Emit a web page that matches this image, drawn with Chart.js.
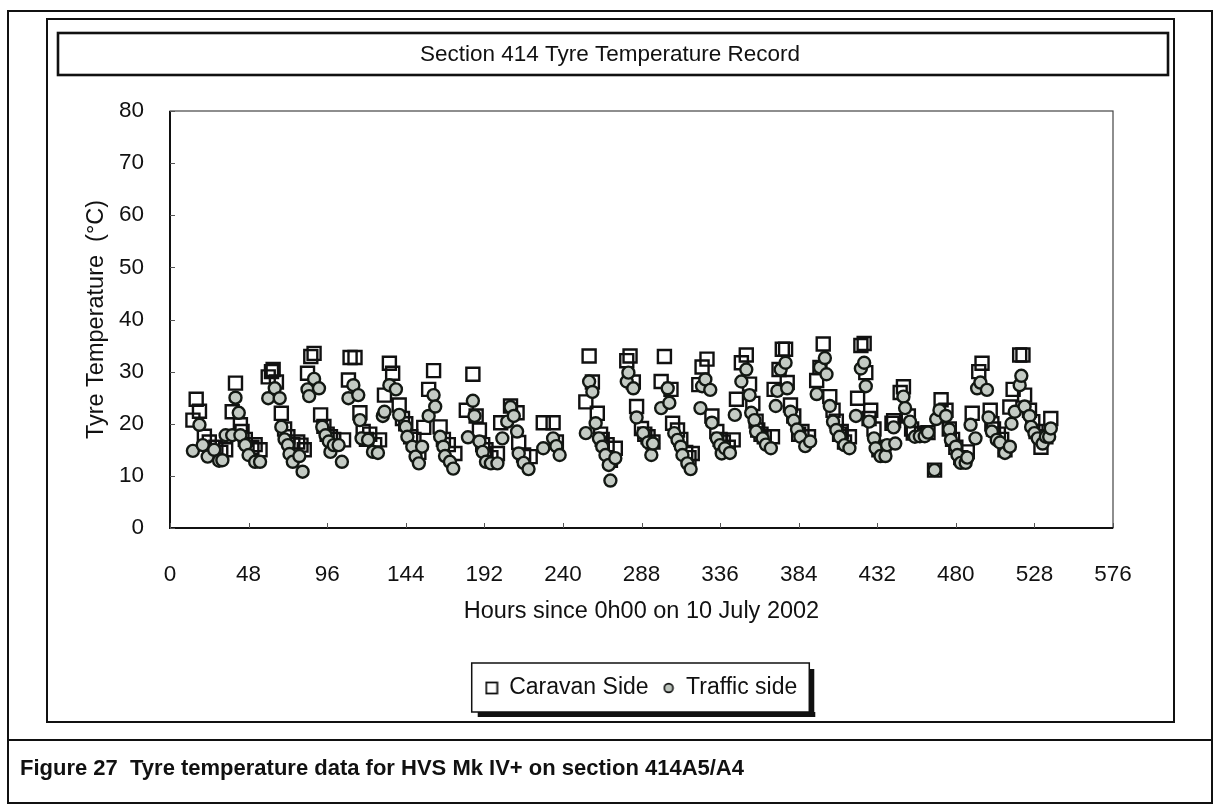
<!DOCTYPE html>
<html>
<head>
<meta charset="utf-8">
<script src="https://cdn.jsdelivr.net/npm/chart.js@4.4.1/dist/chart.umd.min.js"></script>
<style>
html,body{margin:0;padding:0;background:#fff;}
#wrap{position:relative;width:1220px;height:805px;overflow:hidden;background:#fff;}
#c{position:absolute;left:0;top:0;}
#caption{position:absolute;left:20px;top:755px;font:bold 22px "Liberation Sans",Arial,sans-serif;color:#111;white-space:pre;line-height:26px;}
</style>
</head>
<body>
<div id="wrap">
<canvas id="c" width="1220" height="805"></canvas>
<div id="caption">Figure 27  Tyre temperature data for HVS Mk IV+ on section 414A5/A4</div>
</div>
<script>
// ---- text ----
const chartTitle = 'Section 414 Tyre Temperature Record';
const xAxisTitle = 'Hours since 0h00 on 10 July 2002';
const yAxisTitle = 'Tyre Temperature  (\u00B0C)';
const seriesNames = ['Caravan Side', 'Traffic side'];

// ---- tick labels ----
const xTicks = [0, 48, 96, 144, 192, 240, 288, 336, 384, 432, 480, 528, 576];
const yTicks = [0, 10, 20, 30, 40, 50, 60, 70, 80];

// ---- Caravan Side (squares) ----
const caravanHours = [14,16,18,21,24,28,31,34,38,40,43,44,46,50,52,55,60,62,63,65,68,70,72,75,78,80,82,84,86,88,92,94,96,98,100,106,109,110,113,116,118,120,122,125,128,131,134,136,140,142,144,147,149,152,155,158,161,165,167,170,174,181,185,187,189,191,193,196,200,202,208,212,213,216,220,228,234,236,254,256,258,261,263,264,267,269,272,279,281,283,285,288,290,292,295,300,302,306,307,310,312,315,317,319,323,325,328,331,334,336,338,341,344,346,349,352,354,356,358,359,361,363,368,369,372,374,376,377,379,381,384,386,390,395,397,399,403,405,407,409,410,412,415,420,422,424,425,427,428,430,433,436,441,442,446,448,451,453,454,459,463,467,471,474,476,478,480,483,487,490,494,496,501,502,503,506,508,510,513,515,519,521,522,525,527,529,532,535,538];
const caravanTemps = [20.7,24.7,22.4,17.6,16.5,15.5,14.5,15.0,22.3,27.8,19.8,18.5,17.0,15.5,16.0,15.0,29.0,30.0,30.4,28.0,22.0,19.0,17.5,16.0,16.5,15.9,15.0,29.7,32.9,33.5,21.7,19.5,18.0,17.5,17.0,16.9,28.4,32.7,32.7,22.1,18.5,17.0,18.0,16.0,16.9,25.5,31.6,29.7,23.6,21.0,20.0,17.5,17.0,14.5,19.3,26.6,30.2,19.4,17.0,16.0,14.3,22.6,29.5,21.5,18.8,16.0,15.0,13.5,14.3,20.2,23.4,22.1,16.4,14.0,13.7,20.2,20.2,16.5,24.2,33.0,28.0,22.0,18.0,17.0,16.0,13.0,15.3,32.1,33.0,28.0,23.3,19.1,18.0,17.5,16.5,28.1,32.9,26.6,20.1,18.8,17.0,14.5,13.5,14.3,27.5,30.9,32.4,21.5,18.5,17.0,16.5,15.5,16.9,24.7,31.7,33.2,27.6,23.9,20.5,18.8,18.0,17.5,17.5,26.6,30.4,34.3,34.3,27.9,23.6,21.5,18.0,18.5,17.5,28.3,30.8,35.3,25.2,22.6,20.5,18.0,18.5,16.5,17.5,24.9,35.0,35.4,29.8,21.0,22.6,19.0,15.0,15.5,20.1,20.6,26.0,27.1,21.5,19.0,18.2,18.0,18.3,11.1,24.6,22.6,19.0,17.0,15.5,13.5,14.6,22.0,30.0,31.6,22.6,20.0,19.0,18.0,17.0,15.0,23.2,26.6,33.2,33.2,25.5,22.6,20.4,18.5,15.5,17.5,21.0];

// ---- Traffic side (circles) ----
const trafficHours = [14,18,20,23,27,30,32,34,38,40,42,43,46,48,52,55,60,64,67,68,70,72,73,75,79,81,84,85,88,91,93,95,97,98,100,103,105,109,112,115,116,117,121,124,127,130,131,134,138,140,144,145,148,150,152,154,158,161,162,165,167,168,171,173,182,185,186,189,191,193,196,200,203,206,208,210,212,213,216,219,228,234,236,238,254,256,258,260,262,264,266,268,269,272,279,280,283,285,289,292,294,295,300,304,305,308,310,312,313,316,318,324,325,327,330,331,334,336,337,339,342,345,349,352,354,355,357,358,362,364,367,370,371,373,376,377,379,381,383,385,388,391,395,397,400,401,403,405,407,409,412,415,419,422,424,425,427,430,431,434,437,438,442,443,448,449,452,455,458,461,463,467,468,470,474,476,477,480,481,483,486,487,489,492,493,495,499,500,502,505,507,510,513,514,516,519,520,522,525,526,528,530,533,535,537,538];
const trafficTemps = [14.8,19.8,15.9,13.7,15.0,12.9,13.0,17.8,17.8,25.0,22.1,17.8,15.9,14.0,12.7,12.7,24.9,26.8,24.9,19.4,17.0,15.9,14.2,12.7,13.8,10.8,26.6,25.3,28.6,26.8,19.4,17.8,16.6,14.6,15.9,15.9,12.7,24.9,27.4,25.5,20.7,17.2,16.9,14.6,14.4,21.5,22.3,27.4,26.6,21.7,19.4,17.5,15.6,13.7,12.4,15.6,21.5,25.5,23.3,17.5,15.6,13.8,12.7,11.4,17.4,24.4,21.5,16.6,14.6,12.7,12.4,12.4,17.2,20.4,23.2,21.5,18.5,14.3,12.5,11.3,15.3,17.2,15.7,14.0,18.2,28.1,26.1,20.1,17.2,15.6,14.0,12.1,9.1,13.4,28.1,29.8,26.8,21.2,18.2,16.4,14.0,16.2,23.0,26.8,24.0,18.2,16.9,15.6,14.0,12.4,11.3,23.0,27.2,28.5,26.5,20.2,17.2,15.9,14.3,15.3,14.4,21.7,28.1,30.4,25.5,22.1,20.7,18.5,17.2,16.0,15.3,23.4,26.3,30.4,31.7,26.8,22.3,20.6,18.9,17.5,15.7,16.6,25.7,30.8,32.6,29.5,23.4,20.4,18.8,17.5,15.9,15.3,21.5,30.6,31.7,27.2,20.4,17.2,15.3,13.8,13.8,15.9,19.3,16.2,25.2,23.0,20.4,17.5,17.6,17.6,18.3,11.1,20.9,22.6,21.5,18.9,16.9,15.6,14.0,12.5,12.5,13.5,19.8,17.2,26.8,27.9,26.5,21.2,18.5,16.9,16.4,14.4,15.6,20.0,22.3,27.4,29.2,23.3,21.5,19.4,18.2,17.2,16.2,17.5,17.5,19.1];

const FONT = '"Liberation Sans", Arial, sans-serif';
Chart.defaults.font.family = FONT;
Chart.defaults.color = '#111';

function toPoints(xs, ys) { return xs.map((x, i) => ({ x: x, y: ys[i] })); }

// small legend markers
function makeSquareMarker() {
  const c = document.createElement('canvas'); c.width = 14; c.height = 14;
  const g = c.getContext('2d'); g.strokeStyle = '#111'; g.lineWidth = 1.8; g.strokeRect(1.5, 1.5, 11, 11);
  return c;
}
function makeCircleMarker() {
  const c = document.createElement('canvas'); c.width = 12; c.height = 12;
  const g = c.getContext('2d'); g.beginPath(); g.arc(6, 6, 4.4, 0, Math.PI * 2);
  g.fillStyle = '#bcc4bc'; g.fill(); g.strokeStyle = '#111'; g.lineWidth = 1.6; g.stroke();
  return c;
}
const legendMarkers = [makeSquareMarker(), makeCircleMarker()];

const decor = {
  id: 'decor',
  beforeDraw(chart) {
    const c = chart.ctx;
    c.save();
    c.fillStyle = '#fff';
    c.fillRect(0, 0, chart.width, chart.height);
    c.strokeStyle = '#111';
    // page frame
    c.lineWidth = 2;
    c.strokeRect(8, 11, 1204, 792);
    // caption separator
    c.beginPath(); c.moveTo(8, 740); c.lineTo(1212, 740); c.stroke();
    // chart border
    c.lineWidth = 2;
    c.strokeRect(47, 19, 1127, 703);
    // title box
    c.lineWidth = 2.6;
    c.strokeRect(58, 33, 1110, 42);
    // legend box with shadow
    const hb = chart.legend && chart.legend.legendHitBoxes;
    if (hb && hb.length) {
      const first = hb[0], last = hb[hb.length - 1];
      const cy = first.top + first.height / 2;
      const L = first.left - 14, R = last.left + last.width + 12;
      const T = cy - 25, B = cy + 24;
      c.fillStyle = '#111';
      c.fillRect(L + 6, B, R - L, 5);
      c.fillRect(R, T + 6, 5, B - T - 1);
      c.fillStyle = '#fff';
      c.fillRect(L, T, R - L, B - T);
      c.lineWidth = 1.5;
      c.strokeRect(L, T, R - L, B - T);
    }
    c.restore();
  },
  beforeDatasetsDraw(chart) {
    const c = chart.ctx, a = chart.chartArea;
    const xs = chart.scales.x, ys = chart.scales.y;
    c.save();
    // plot box
    c.strokeStyle = '#444'; c.lineWidth = 1.2;
    c.strokeRect(a.left, a.top, a.right - a.left, a.bottom - a.top);
    c.strokeStyle = '#111'; c.lineWidth = 2;
    c.beginPath(); c.moveTo(a.left, a.top); c.lineTo(a.left, a.bottom); c.lineTo(a.right, a.bottom); c.stroke();
    // inside tick marks
    c.strokeStyle = '#555'; c.lineWidth = 1;
    c.beginPath();
    xTicks.forEach(v => { const px = Math.round(xs.getPixelForValue(v)) + 0.5; c.moveTo(px, a.bottom); c.lineTo(px, a.bottom - 5); });
    yTicks.forEach(v => { const py = Math.round(ys.getPixelForValue(v)) + 0.5; c.moveTo(a.left, py); c.lineTo(a.left + 5, py); });
    c.stroke();
    c.restore();
  }
};

new Chart(document.getElementById('c'), {
  type: 'scatter',
  data: {
    datasets: [
      {
        label: seriesNames[0],
        data: toPoints(caravanHours, caravanTemps),
        pointStyle: 'rect',
        pointRadius: 9.2,
        pointHoverRadius: 9.2,
        borderWidth: 2.4,
        borderColor: '#111',
        backgroundColor: 'rgba(255,255,255,0)',
        order: 1
      },
      {
        label: seriesNames[1],
        data: toPoints(trafficHours, trafficTemps),
        pointStyle: 'circle',
        pointRadius: 6,
        pointHoverRadius: 6,
        borderWidth: 2.4,
        borderColor: '#131813',
        backgroundColor: '#c4cbc4',
        order: 0
      }
    ]
  },
  options: {
    responsive: false,
    animation: false,
    devicePixelRatio: 1,
    layout: { padding: { left: 0, right: 0, top: 0, bottom: 95.5 } },
    scales: {
      x: {
        type: 'linear', position: 'bottom', min: 0, max: 576,
        afterBuildTicks(s) { s.ticks = xTicks.map(v => ({ value: v })); },
        grid: { display: false }, border: { display: false },
        ticks: { padding: 25.5, maxRotation: 0, autoSkip: false, color: '#111', font: { size: 22.5 } },
        title: { display: true, text: xAxisTitle, color: '#111', font: { size: 23.5 }, padding: { top: 0, bottom: 36.4 } },
        afterFit(s) { s.height = 134.5; }
      },
      y: {
        position: 'left', min: 0, max: 80,
        afterBuildTicks(s) { s.ticks = yTicks.map(v => ({ value: v })); },
        grid: { display: false }, border: { display: false },
        ticks: { padding: 18, color: '#111', font: { size: 22.5 } },
        title: { display: true, text: yAxisTitle, color: '#111', font: { size: 23.5 }, padding: { top: 82.9, bottom: 0 } },
        afterFit(s) { s.width = 170; }
      },
      yR: {
        position: 'right', min: 0, max: 80, display: true,
        grid: { display: false }, border: { display: false },
        ticks: { display: false },
        afterFit(s) { s.width = 107; }
      }
    },
    plugins: {
      title: {
        display: true, text: chartTitle, color: '#111',
        font: { size: 22.5, weight: 'normal' },
        padding: { top: 41.5, bottom: 42.5 }
      },
      legend: {
        display: true, position: 'bottom', fullSize: false,
        labels: {
          usePointStyle: true, boxWidth: 12, boxHeight: 12, padding: 14,
          color: '#111', font: { size: 23 },
          generateLabels(chart) {
            const items = Chart.defaults.plugins.legend.labels.generateLabels(chart);
            items.sort((a, b) => a.datasetIndex - b.datasetIndex);
            items.forEach(it => { it.pointStyle = legendMarkers[it.datasetIndex]; it.lineWidth = 0; });
            return items;
          }
        }
      },
      tooltip: { enabled: false }
    }
  },
  plugins: [decor]
});
</script>
</body>
</html>
